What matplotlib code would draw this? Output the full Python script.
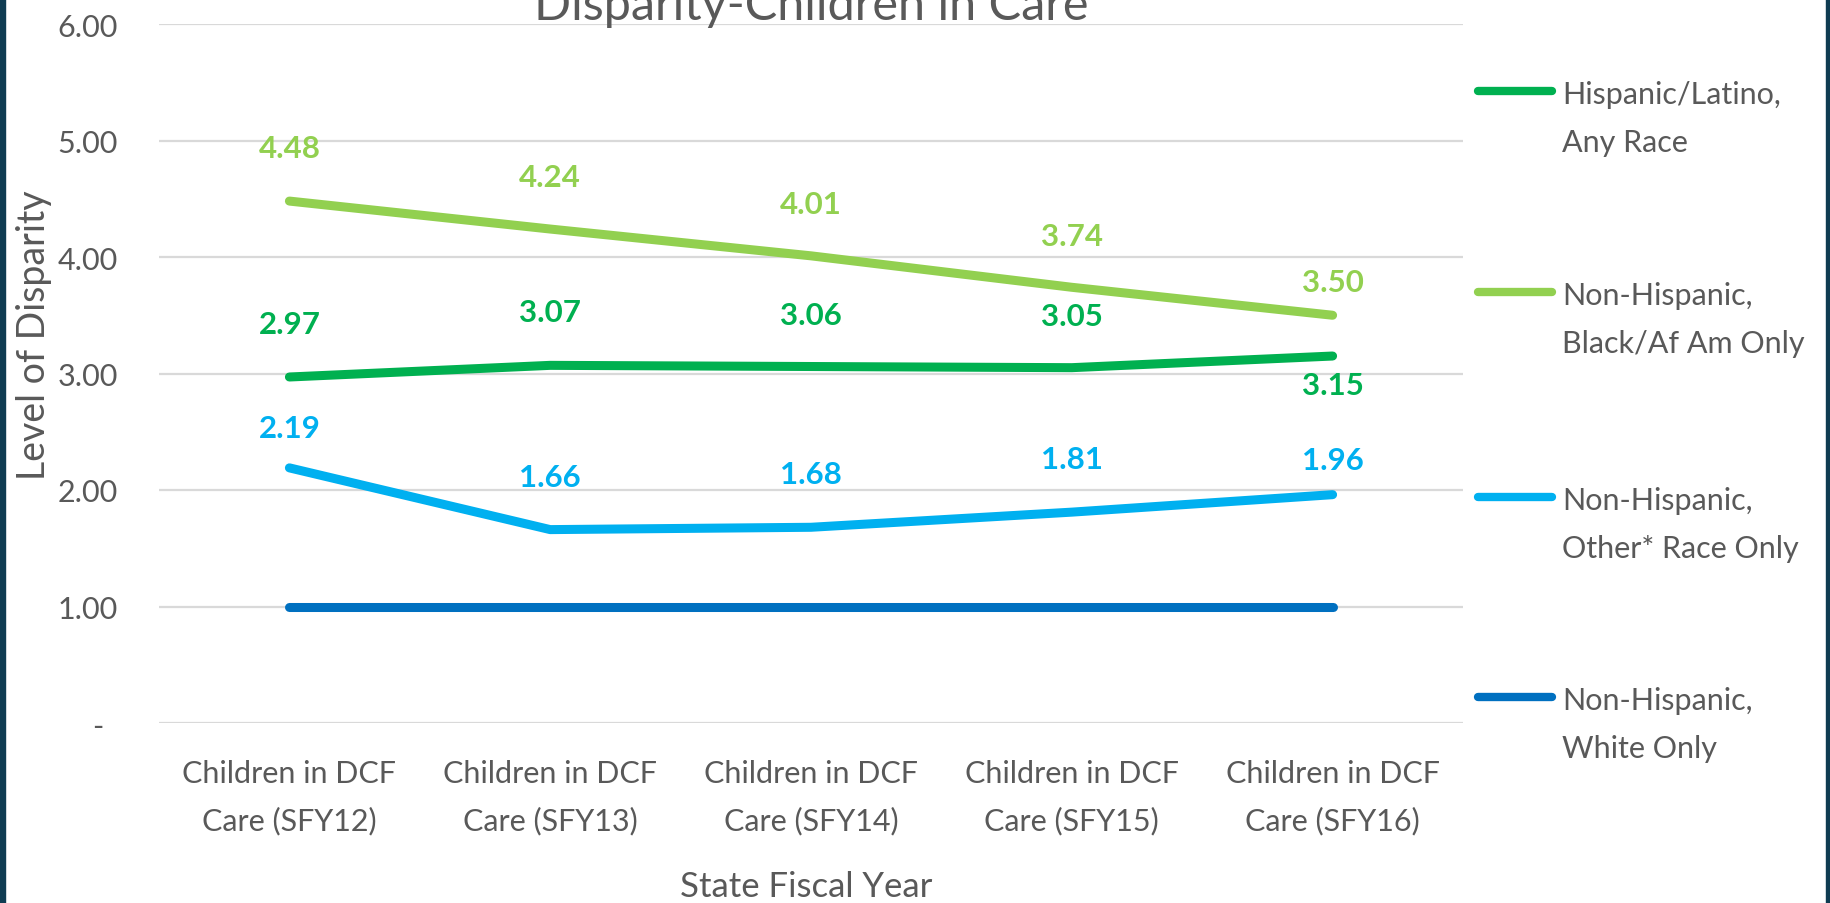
import matplotlib
matplotlib.use("Agg")
import matplotlib.pyplot as plt
import matplotlib.transforms as mtransforms
from matplotlib.lines import Line2D
from matplotlib.patches import Rectangle

plt.rcParams["font.family"] = ["Lato", "DejaVu Sans"]

# ─── Data ─────────────────────────────────────────────────────────────────────
CATEGORIES = [
    "Children in DCF\nCare (SFY12)",
    "Children in DCF\nCare (SFY13)",
    "Children in DCF\nCare (SFY14)",
    "Children in DCF\nCare (SFY15)",
    "Children in DCF\nCare (SFY16)",
]
SERIES_NAMES = [
    "Hispanic/Latino,\nAny Race",
    "Non-Hispanic,\nBlack/Af Am Only",
    "Non-Hispanic,\nOther* Race Only",
    "Non-Hispanic,\nWhite Only",
]
HISPANIC = [2.97, 3.07, 3.06, 3.05, 3.15]
BLACK = [4.48, 4.24, 4.01, 3.74, 3.50]
OTHER = [2.19, 1.66, 1.68, 1.81, 1.96]
WHITE = [1.00, 1.00, 1.00, 1.00, 1.00]
Y_TICKS = [0, 1, 2, 3, 4, 5, 6]
Y_TICK_LABELS = ["-", "1.00", "2.00", "3.00", "4.00", "5.00", "6.00"]

# ─── Style ────────────────────────────────────────────────────────────────────
COLORS = ["#00B050", "#92D050", "#00B0F0", "#0070C0"]
SHOW_LABELS = [True, True, True, False]
# vertical offset of data labels, in pixels (positive = above)
LABEL_DY = [
    [53, 53, 52, 52, -29],
    [53, 52, 52, 51, 33],
    [40, 53, 53, 53, 35],
    [0, 0, 0, 0, 0],
]
GRAY = "#595959"
BORDER = "#0F3C52"

W, H = 1831, 904
fig = plt.figure(figsize=(W / 100, H / 100), dpi=100, facecolor="white")
ax = fig.add_axes([159 / W, 1 - 724 / H, (1463 - 159) / W, (724 - 25) / H])

values = [HISPANIC, BLACK, OTHER, WHITE]
xs = list(range(len(CATEGORIES)))

ax.set_xlim(-0.5, len(CATEGORIES) - 0.5)
ax.set_ylim(0, 6)
ax.set_yticks(Y_TICKS)
ax.set_yticklabels(Y_TICK_LABELS)
ax.set_xticks(xs)
ax.set_xticklabels(CATEGORIES, linespacing=1.8)
ax.tick_params(axis="both", length=0, labelsize=22, labelcolor=GRAY)
ax.tick_params(axis="y", pad=29.5)
ax.tick_params(axis="x", pad=26)
ax.grid(axis="y", color="#D9D9D9", linewidth=1.6)
ax.set_axisbelow(True)
for s in ax.spines.values():
    s.set_visible(False)

# accounting-style zero: dash sits left of the decimal column
zero_lbl = ax.get_yticklabels()[0]
zero_lbl.set_transform(zero_lbl.get_transform()
                       + mtransforms.ScaledTranslation(-0.15, 0, fig.dpi_scale_trans))

for vals, color, show, dys in zip(values, COLORS, SHOW_LABELS, LABEL_DY):
    ax.plot(xs, vals, color=color, linewidth=6.5, solid_capstyle="round",
            solid_joinstyle="round", zorder=3)
    if show:
        for x, v, dy in zip(xs, vals, dys):
            ax.annotate(f"{v:.2f}", (x, v), xytext=(0, dy),
                        textcoords="offset pixels", ha="center", va="center",
                        fontsize=22.5, fontweight="bold", color=color)

# Legend drawn at the right
legend_y = [92, 293, 498, 698]
for name, color, ly in zip(SERIES_NAMES, COLORS, legend_y):
    yf = 1 - ly / H
    fig.add_artist(Line2D([1478 / W, 1552 / W], [yf, yf], color=color,
                          linewidth=6, solid_capstyle="round"))
    first, second = name.split("\n")
    fig.text(1562 / W, 1 - (ly + 12) / H, first, fontsize=22, color=GRAY,
             va="baseline", ha="left")
    fig.text(1562 / W, 1 - (ly + 60) / H, second, fontsize=22, color=GRAY,
             va="baseline", ha="left")

# Titles (the chart title is cropped at the top edge, as in the source image)
fig.text(811 / W, 1 - 20 / H, "Disparity-Children in Care", fontsize=35,
         color=GRAY, ha="center", va="baseline")
fig.text(34 / W, 1 - 335 / H, "Level of Disparity", fontsize=27, color=GRAY,
         rotation=90, ha="center", va="center")
fig.text(806 / W, 1 - 897 / H, "State Fiscal Year", fontsize=25, color=GRAY,
         ha="center", va="baseline")

# Dark frame strips at the sides
fig.patches.append(Rectangle((0, 0), 5 / W, 1, transform=fig.transFigure,
                             color=BORDER, zorder=10))
fig.patches.append(Rectangle((1 - 5 / W, 0), 5 / W, 1, transform=fig.transFigure,
                             color=BORDER, zorder=10))

fig.savefig("out.png", dpi=100, facecolor="white")
